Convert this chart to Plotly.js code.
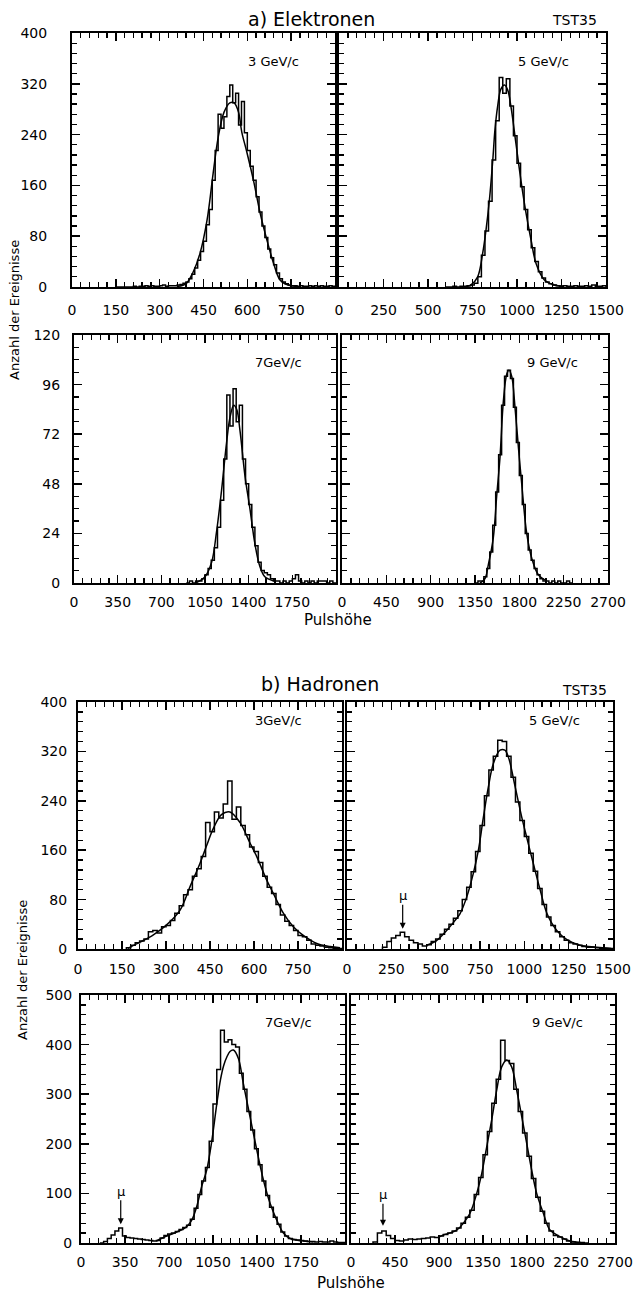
<!DOCTYPE html>
<html><head><meta charset="utf-8">
<script src="https://cdn.plot.ly/plotly-3.0.1.min.js"></script>
<style>html,body{margin:0;padding:0;background:#fff}#c{width:634px;height:1295px}</style>
</head><body><div id="c"></div>
<script>
// ---------- DATA ----------
// a) Elektronen
const e3Start = 150, e3Width = 10;
const e3Counts = [0,0,0,0,0,0,1,0,1,1,2,1,2,1,1,2,3,1,2,2,
  2,3,4,6,8,13,20,30,42,56, 72,98,122,168,215,272,250,268,300,318,
  290,305,255,292,243,215,190,168,142,118, 96,78,60,46,35,22,13,8,5,3,
  2,2,1,2,1,1,2,1,2,1, 2,1,1,2,1];
const e3FitX = [360,390,415,438,462,483,500,520,540,555,570,581,598,621,644,667,690,712,740,770];
const e3FitY = [1,5,24,53,105,179,235,275,290,290,275,244,213,168,116,74,37,11,3,1];

const e5Start = 600, e5Width = 20;
const e5Counts = [0,0,1,0,1, 1,2,3,6,16,50,88,135,200,262,
  330,305,328,285,238,195,158,122,90,62, 40,24,14,8,5,3,2,1,2,1, 1,2,1,1,2,1,3,1,1,2];
const e5FitX = [700,740,779,807,826,845,864,876,891,910,930,948,966,994,1022,1051,1079,1107,1154,1200,1260];
const e5FitY = [0,3,16,53,90,137,200,247,284,312,318,310,284,226,168,116,74,37,11,4,1];

const e7Start = 900, e7Width = 25;
const e7Counts = [0,1,0,1,1,2,4,7,11,17, 27,40,60,91,76,94,78,86,60,48,
  38,27,18,10,6,5,4,2,1,1, 0,1,0,1,2,4,1,0,1,0, 1,0,1,1,1,0,1,0];
const e7FitX = [975,1050,1103,1143,1183,1223,1250,1280,1304,1330,1370,1410,1450,1490,1530,1600];
const e7FitY = [0,3,10,25,45,68,80,86,84,74,52,36,19,8,3,1];

const e9Start = 1350, e9Width = 30;
const e9Counts = [0,1,1,3,7,15,28,44,62,86, 100,103,99,85,68,52,38,24,16,11,
  7,4,2,1,1,0,1,0,1,0, 0,1,0];
const e9FitX = [1400,1450,1486,1536,1570,1604,1638,1672,1695,1723,1756,1790,1824,1875,1926,1993,2078];
const e9FitY = [0,2,9,22,42,61,88,101,103,100,85,66,48,24,12,4,1];

// b) Hadronen
const h3Start = 165, h3Width = 15;
const h3Counts = [2,6,10,13,16,28,30,26,36,38, 46,58,70,88,96,118,130,150,205,190,
  222,212,235,272,210,230,200,185,165,158, 140,118,100,90,72,55,45,38,30,22,
  20,14,8,6,5,3,2,1,1];
const h3FitX = [170,211,257,302,348,382,416,439,461,490,518,552,586,609,643,666,700,734,768,814,859,893];
const h3FitY = [1,11,23,39,63,101,139,168,195,218,222,205,172,150,112,90,58,36,22,9,4,2];

const h5Start = 200, h5Width = 25;
const h5Counts = [3,12,18,22,27,20,14,10,8,5, 7,12,16,24,32,40,50,62,80,100,
  125,158,200,248,290,312,338,336,312,278, 238,208,182,155,126,98,72,52,38,28,
  20,14,10,8,6,4,3,3,2,1, 1,1];
const h5FitX = [450,506,562,600,637,675,712,741,769,797,825,863,890,910,948,985,1014,1051,1089,1127,1183,1240,1314,1408,1490];
const h5FitY = [6,14,30,43,57,84,122,160,213,262,300,322,322,311,263,214,180,138,96,58,30,15,6,3,1];

const h7Start = 150, h7Width = 30;
const h7Counts = [0,3,9,16,24,30,14,11,10,9, 8,7,6,5,4,5,10,15,18,20,
  23,27,31,36,48,70,98,125,152,205, 280,350,429,405,410,400,395,342,310,265,
  228,190,158,125,96,72,52,38,22,14, 9,7,6,5,4,3,3,2,3,2, 2,4,2,1,1];
const h7FitX = [600,682,761,841,881,920,960,1000,1040,1080,1110,1135,1160,1185,1212,1252,1291,1344,1398,1451,1504,1557,1610,1663,1742,1850];
const h7FitY = [4,14,22,33,46,73,114,147,205,280,330,358,375,386,389,372,322,255,188,127,80,46,20,9,5,2];

const h9Start = 225, h9Width = 45;
const h9Counts = [2,20,24,15,9,5,4,6,8,7, 8,9,10,12,11,14,17,20,24,30,
  40,52,66,98,132,178,225,282,330,409, 368,362,310,265,222,175,130,92,64,40,
  24,15,12,8,4,2,1,1,0];
const h9FitX = [900,944,1081,1149,1217,1286,1337,1388,1439,1490,1541,1593,1643,1695,1746,1797,1848,1899,1967,2035,2137,2240,2350];
const h9FitY = [12,16,26,40,60,100,140,194,248,308,355,369,355,308,255,201,147,100,60,26,13,4,1];

const momentumLabels = ['3 GeV/c','5 GeV/c','7GeV/c','9 GeV/c','3GeV/c','5 GeV/c','7GeV/c','9 GeV/c'];

// ---------- LAYOUT ----------
const W = 634, H = 1295;
const FONT = 'DejaVu Sans, Liberation Sans, sans-serif';
const series = [
  [e3Start,e3Width,e3Counts,e3FitX,e3FitY],
  [e5Start,e5Width,e5Counts,e5FitX,e5FitY],
  [e7Start,e7Width,e7Counts,e7FitX,e7FitY],
  [e9Start,e9Width,e9Counts,e9FitX,e9FitY],
  [h3Start,h3Width,h3Counts,h3FitX,h3FitY],
  [h5Start,h5Width,h5Counts,h5FitX,h5FitY],
  [h7Start,h7Width,h7Counts,h7FitX,h7FitY],
  [h9Start,h9Width,h9Counts,h9FitX,h9FitY]
];
const boxes = [
  {px:[72,335],  py:[33,287],   xr:[0,900],  xd:150, xm:30, last:false, yr:[0,400], yd:80,  ym:16, yl:true,  xs:9, ys:20, lab:[273,62]},
  {px:[339,606], py:[33,287],   xr:[0,1500], xd:250, xm:50, last:true,  yr:[0,400], yd:80,  ym:16, yl:false, xs:9, ys:4,  lab:[543,62]},
  {px:[74,336],  py:[335,583],  xr:[0,2100], xd:350, xm:70, last:false, yr:[0,120], yd:24,  ym:6,  yl:true,  xs:5, ys:9,  lab:[278,362]},
  {px:[342,608], py:[335,583],  xr:[0,2700], xd:450, xm:90, last:true,  yr:[0,120], yd:24,  ym:6,  yl:false, xs:5, ys:4,  lab:[552,362]},
  {px:[78,342],  py:[702,949],  xr:[0,900],  xd:150, xm:30, last:false, yr:[0,400], yd:80,  ym:16, yl:true,  xs:6, ys:6,  lab:[278,720]},
  {px:[347,613], py:[702,949],  xr:[0,1500], xd:250, xm:50, last:true,  yr:[0,400], yd:80,  ym:16, yl:false, xs:6, ys:4,  lab:[554,720]},
  {px:[81,345],  py:[995,1243], xr:[0,2100], xd:350, xm:70, last:false, yr:[0,500], yd:100, ym:20, yl:true,  xs:5, ys:4,  lab:[288,1022]},
  {px:[351,615], py:[995,1243], xr:[0,2700], xd:450, xm:90, last:true,  yr:[0,500], yd:100, ym:20, yl:false, xs:5, ys:4,  lab:[557,1022]}
];

function histStep(start, width, counts) {
  const xs = [start], ys = [0];
  counts.forEach((c, i) => { xs.push(start + i * width); ys.push(c); });
  xs.push(start + counts.length * width); ys.push(0);
  return [xs, ys];
}
function majorTicks(r, d, keepLast) {
  const v = [];
  for (let t = r[0]; t <= r[1] + 1e-9; t += d) v.push(t);
  if (!keepLast) v.pop();
  return v;
}

const px2x = p => p / W, px2y = p => 1 - p / H;
const traces = [];
const layout = {
  width: W, height: H, margin: {l:0, r:0, t:0, b:0},
  paper_bgcolor: '#fff', plot_bgcolor: '#fff', showlegend: false,
  font: {family: FONT, color: '#000'},
  annotations: []
};

boxes.forEach((b, i) => {
  const id = i === 0 ? '' : String(i + 1);
  const [s, w, c, fx, fy] = series[i];
  const [hx, hy] = histStep(s, w, c);
  traces.push({x: hx, y: hy, xaxis: 'x' + id, yaxis: 'y' + id, mode: 'lines',
    line: {shape: 'hv', color: '#000', width: 1.5}, hoverinfo: 'skip'});
  traces.push({x: fx, y: fy, xaxis: 'x' + id, yaxis: 'y' + id, mode: 'lines',
    line: {shape: 'spline', smoothing: 1, color: '#000', width: 1.5}, hoverinfo: 'skip'});
  const common = {
    ticks: 'inside', ticklen: 8, tickwidth: 1.6, tickcolor: '#000',
    showline: true, linewidth: 2, linecolor: '#000', mirror: 'ticks',
    showgrid: false, zeroline: false, fixedrange: true,
    tickfont: {family: FONT, size: 14, color: '#000'}
  };
  const xv = majorTicks(b.xr, b.xd, b.last);
  layout['xaxis' + id] = Object.assign({}, common, {
    domain: [px2x(b.px[0]), px2x(b.px[1])], range: b.xr, anchor: 'y' + id,
    tickmode: 'array', tickvals: xv, ticktext: xv.map(String),
    minor: {tickmode: 'linear', ticks: 'inside', dtick: b.xm, tick0: 0, ticklen: 5, tickwidth: 1.3, tickcolor: '#000', showgrid: false},
    ticklabelstandoff: b.xs
  });
  layout['yaxis' + id] = Object.assign({}, common, {
    domain: [px2y(b.py[1]), px2y(b.py[0])], range: b.yr, anchor: 'x' + id,
    tickmode: 'linear', tick0: 0, dtick: b.yd,
    minor: {tickmode: 'linear', ticks: 'inside', dtick: b.ym, tick0: 0, ticklen: 5, tickwidth: 1.3, tickcolor: '#000', showgrid: false},
    showticklabels: b.yl, ticklabelstandoff: b.ys
  });
  layout.annotations.push({xref: 'paper', yref: 'paper', x: px2x(b.lab[0]), y: px2y(b.lab[1]),
    xanchor: 'center', yanchor: 'middle', showarrow: false, text: momentumLabels[i],
    font: {family: FONT, size: 13, color: '#000'}});
});

function ptext(text, x, y, size, xanchor, angle) {
  layout.annotations.push({xref: 'paper', yref: 'paper', x: px2x(x), y: px2y(y),
    xanchor: xanchor || 'center', yanchor: 'middle', showarrow: false, text: text,
    textangle: angle || 0, font: {family: FONT, size: size, color: '#000'}});
}
ptext('a) Elektronen', 311, 19, 19);
ptext('TST35', 599, 20, 14, 'right');
ptext('b) Hadronen', 320, 684, 19);
ptext('TST35', 609, 690, 14, 'right');
ptext('Pulshöhe', 338, 620, 15);
ptext('Pulshöhe', 351, 1283, 15);
ptext('Anzahl der Ereignisse', 15, 310, 13, 'center', -90);
ptext('Anzahl der Ereignisse', 23, 970, 13, 'center', -90);

// muon arrows
[['x6','y6',314,31,-34],['x7','y7',316,36,-34],['x8','y8',327,33,-32]].forEach(m => {
  layout.annotations.push({xref: m[0], yref: m[1], x: m[2], y: m[3], ax: 0, ay: m[4],
    text: 'μ', showarrow: true, arrowhead: 2, arrowsize: 1, arrowwidth: 1.2, arrowcolor: '#000',
    standoff: 1, font: {family: FONT, size: 13, color: '#000'}});
});

Plotly.newPlot('c', traces, layout, {staticPlot: true, displayModeBar: false});
</script>
</body></html>
